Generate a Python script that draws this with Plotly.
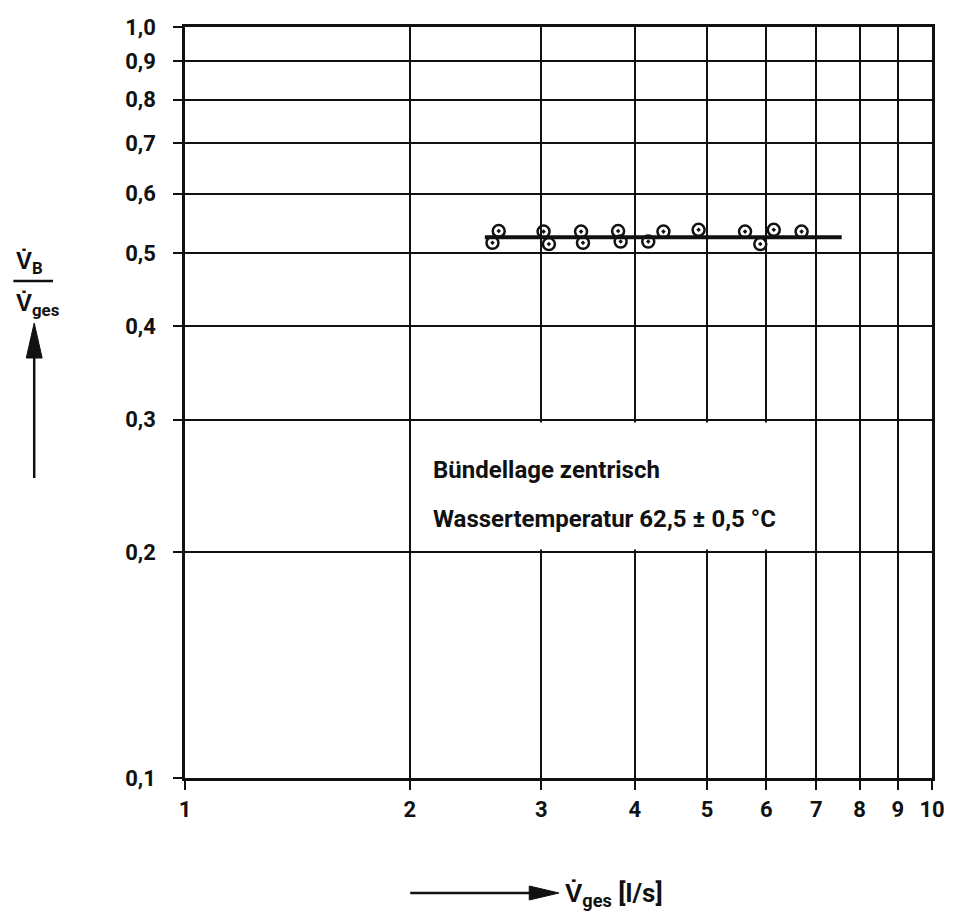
import plotly.graph_objects as go

# Measured volume-flow ratio V_B / V_ges over total flow V_ges [l/s]
flow_total = [2.58, 2.63, 3.02, 3.07, 3.39, 3.41, 3.80, 3.83, 4.17, 4.37,
              4.87, 5.62, 5.89, 6.14, 6.69]
flow_ratio = [0.516, 0.535, 0.534, 0.514, 0.534, 0.516, 0.535, 0.518, 0.518, 0.534,
              0.537, 0.534, 0.514, 0.537, 0.534]

# Mean ratio drawn as a horizontal line across the measured range
fit_x = [2.52, 7.57]
fit_y = [0.525, 0.525]

x_ticks = [1, 2, 3, 4, 5, 6, 7, 8, 9, 10]
x_labels = ["1", "2", "3", "4", "5", "6", "7", "8", "9", "10"]
y_ticks = [0.1, 0.2, 0.3, 0.4, 0.5, 0.6, 0.7, 0.8, 0.9, 1.0]
y_labels = ["0,1", "0,2", "0,3", "0,4", "0,5", "0,6", "0,7", "0,8", "0,9", "1,0"]

note_lines = ["Bündellage zentrisch", "Wassertemperatur 62,5 ± 0,5 °C"]

FONT = "Roboto, Liberation Sans, Arial, sans-serif"
INK = "#111111"

W, H = 957, 915
L, R, T, B = 185, 938, 27, 778


def px(x):
    return (x - L) / (R - L)


def py(y):
    return (B - y) / (B - T)


def text_font(size):
    return dict(family=FONT, size=size, color=INK, weight="bold")


fig = go.Figure()

fig.add_trace(go.Scatter(
    x=fit_x, y=fit_y, mode="lines",
    line=dict(color=INK, width=4), showlegend=False, hoverinfo="skip"))

fig.add_trace(go.Scatter(
    x=flow_total, y=flow_ratio, mode="markers",
    marker=dict(symbol="circle-open-dot", size=12, color=INK,
                line=dict(color=INK, width=2.5)),
    showlegend=False))

axis_common = dict(
    type="log", showgrid=True, gridcolor=INK, gridwidth=2,
    showline=True, linecolor=INK, linewidth=2.5, mirror=True,
    ticks="outside", ticklen=9, tickwidth=2, tickcolor=INK,
    zeroline=False,
    tickfont=text_font(22),
)

fig.update_xaxes(range=[0, 1], tickvals=x_ticks, ticktext=x_labels,
                 ticklabelstandoff=1, **axis_common)
fig.update_yaxes(range=[-1, 0], tickvals=y_ticks, ticktext=y_labels,
                 ticklabelstandoff=13, **axis_common)

# White label box between 0.2 and 0.3, from x = 2 to just past x = 6
fig.add_shape(type="rect", xref="x", yref="y", layer="between",
              x0=2.015, x1=6.35, y0=0.2015, y1=0.2975,
              fillcolor="white", line=dict(width=0))

fig.add_annotation(xref="paper", yref="paper", x=px(433), y=py(470),
                   xanchor="left", yanchor="middle", showarrow=False,
                   text=note_lines[0], font=text_font(24))
fig.add_annotation(xref="paper", yref="paper", x=px(433), y=py(519),
                   xanchor="left", yanchor="middle", showarrow=False,
                   text=note_lines[1], font=text_font(24))

# y-axis quantity: V̇_B / V̇_ges with an upward arrow
fig.add_annotation(xref="paper", yref="paper", x=px(13), y=py(262),
                   xanchor="left", yanchor="middle", showarrow=False,
                   text="V\u0307<sub>B</sub>", font=text_font(24))
fig.add_shape(type="line", xref="paper", yref="paper",
              x0=px(12), x1=px(52), y0=py(281), y1=py(281),
              line=dict(color=INK, width=2.5))
fig.add_annotation(xref="paper", yref="paper", x=px(13), y=py(304),
                   xanchor="left", yanchor="middle", showarrow=False,
                   text="V\u0307<sub>ges</sub>", font=text_font(24))
fig.add_shape(type="line", xref="paper", yref="paper",
              x0=px(33), x1=px(33), y0=py(478), y1=py(350),
              line=dict(color=INK, width=2.5))
fig.add_shape(type="path", xref="paper", yref="paper",
              path=f"M {px(25)} {py(358)} L {px(33)} {py(323)} L {px(41)} {py(358)} Z",
              fillcolor=INK, line=dict(color=INK, width=1))

# x-axis quantity: arrow pointing to V̇_ges [l/s]
fig.add_shape(type="line", xref="paper", yref="paper",
              x0=px(412), x1=px(540), y0=py(893), y1=py(893),
              line=dict(color=INK, width=2.5))
fig.add_shape(type="path", xref="paper", yref="paper",
              path=f"M {px(532)} {py(886)} L {px(562)} {py(893)} L {px(532)} {py(900)} Z",
              fillcolor=INK, line=dict(color=INK, width=1))
fig.add_annotation(xref="paper", yref="paper", x=px(566), y=py(895),
                   xanchor="left", yanchor="middle", showarrow=False,
                   text="V\u0307<sub>ges</sub> [l/s]", font=text_font(26))

fig.update_layout(
    width=W, height=H,
    margin=dict(l=L, r=W - R, t=T, b=H - B, pad=0),
    plot_bgcolor="white", paper_bgcolor="white",
    font=dict(family=FONT, color=INK),
)

fig.write_html("out.html")
